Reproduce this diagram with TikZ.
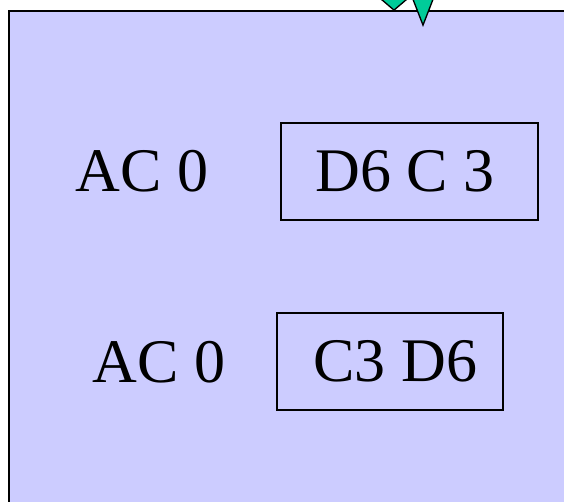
\documentclass[tikz,border=0pt]{standalone}
\usepackage{fontspec}
\setmainfont{Liberation Serif}
\usepackage{tikz}
\usetikzlibrary{arrows.meta,positioning}
\usepackage{xcolor}
\definecolor{panelblue}{HTML}{CCCCFF}
\definecolor{arrowgreen}{HTML}{00CC99}

\begin{document}
\begin{tikzpicture}[
  x=0.75pt, y=-0.75pt,
  panel/.style={draw=black, fill=panelblue, line width=2pt},
  label/.style={font=\fontsize{46.5}{56}\selectfont, anchor=base, inner sep=0pt},
  cell/.style={rectangle, draw=black, line width=1.1pt, font=\fontsize{46.5}{56}\selectfont,
               minimum height=72.75pt, inner sep=0pt},
  wide/.style={line width=1pt, draw=black,
               -{Triangle[length=15pt, width=35pt, fill=arrowgreen]}},
  slim/.style={line width=1pt, draw=black,
               -{Triangle[length=30pt, width=23pt, fill=arrowgreen]}}
]
\useasboundingbox (0,0) rectangle (564,502);
\clip (0,0) rectangle (564,502);

% background panel
\draw[panel] (9,11) rectangle (580,520);

% top row
\node[label] (acA) at (142,192) {AC 0};
\node[cell, minimum width=192.75pt] (dc) at (409.5,171.5) {D6 C 3\hspace*{7pt}};

% bottom row
\node[label] (acB) at (159,382) {AC 0};
\node[cell, minimum width=169.5pt] (cd) at (390,361.5) {\hspace*{8pt}C3 D6};

% incoming arrows
\coordinate (inA) at (394,-60);
\coordinate (tipA) at (394,11);
\coordinate (inB) at (423,-60);
\coordinate (tipB) at (423,27);
\draw[wide] (inA) -- (tipA);
\draw[slim] (inB) -- (tipB);
\end{tikzpicture}
\end{document}
